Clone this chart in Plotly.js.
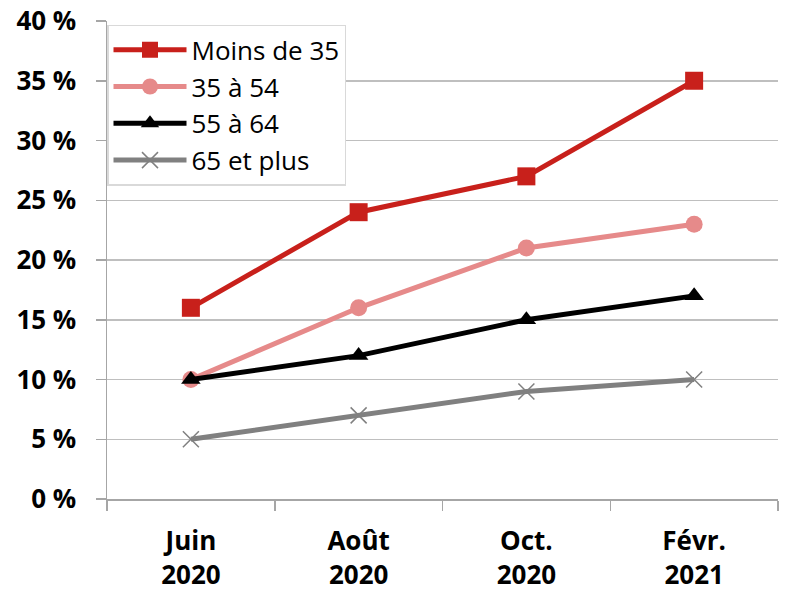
<!DOCTYPE html>
<html>
<head>
<meta charset="utf-8">
<script src="https://cdn.plot.ly/plotly-3.0.1.min.js"></script>
<style>html,body{margin:0;padding:0;background:#fff;}#chart{width:785px;height:590px;}</style>
</head>
<body>
<div id="chart"></div>
<script>
const categories = ["Juin<br>2020", "Août<br>2020", "Oct.<br>2020", "Févr.<br>2021"];
const seriesNames = ["Moins de 35", "35 à 54", "55 à 64", "65 et plus"];
const moinsDe35 = [16, 24, 27, 35];
const de35a54 = [10, 16, 21, 23];
const de55a64 = [10, 12, 15, 17];
const plus65 = [5, 7, 9, 10];
const yTicks = [0, 5, 10, 15, 20, 25, 30, 35, 40];
const yTickLabels = yTicks.map(v => v + " %");

const styles = [
  {color: "#C8201B", symbol: "square", size: 18},
  {color: "#E68A8A", symbol: "circle", size: 17},
  {color: "#000000", symbol: "triangle-up", size: 17},
  {color: "#808080", symbol: "x-thin-open", size: 16}
];
const values = [moinsDe35, de35a54, de55a64, plus65];

const traces = values.map((v, i) => ({
  type: "scatter",
  mode: "lines+markers",
  name: seriesNames[i],
  x: categories,
  y: v,
  line: {color: styles[i].color, width: 5},
  marker: {
    color: styles[i].color,
    symbol: styles[i].symbol,
    size: styles[i].size,
    line: {color: styles[i].color, width: i === 3 ? 1.5 : 0}
  }
}));

const layout = {
  width: 785, height: 590,
  margin: {l: 107, r: 7, t: 21, b: 91},
  paper_bgcolor: "#ffffff",
  plot_bgcolor: "#ffffff",
  font: {family: "Open Sans", color: "#000"},
  showlegend: true,
  legend: {
    x: 0, y: 0.992, xanchor: "left", yanchor: "top",
    bgcolor: "#ffffff", bordercolor: "#d9d9d9", borderwidth: 1.5,
    font: {family: "Open Sans", size: 26, color: "#000"},
    itemwidth: 73,
    tracegroupgap: 0
  },
  xaxis: {
    type: "category",
    range: [-0.5, 3.5],
    tickson: "boundaries",
    ticks: "outside", ticklen: 10, tickcolor: "#a6a6a6", tickwidth: 1.5,
    showline: true, linecolor: "#a6a6a6", linewidth: 1.5,
    showgrid: false,
    tickfont: {family: "Open Sans", size: 26, color: "#000", weight: "bold"},
    ticklabelstandoff: 18,
    zeroline: false
  },
  yaxis: {
    range: [0, 40],
    tickmode: "array",
    tickvals: yTicks,
    ticktext: yTickLabels,
    ticks: "outside", ticklen: 10, tickcolor: "#a6a6a6", tickwidth: 1.5,
    showline: true, linecolor: "#a6a6a6", linewidth: 1.5,
    showgrid: true, gridcolor: "#bfbfbf", gridwidth: 1.5,
    zeroline: false,
    tickfont: {family: "Open Sans", size: 26, color: "#000", weight: "bold"},
    ticklabelstandoff: 14
  }
};

Plotly.newPlot("chart", traces, layout, {displayModeBar: false, staticPlot: true});
</script>
</body>
</html>
